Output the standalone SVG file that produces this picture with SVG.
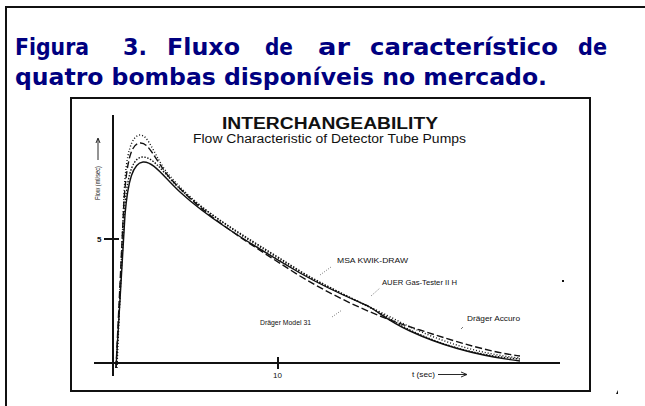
<svg xmlns="http://www.w3.org/2000/svg" width="645" height="406" viewBox="0 0 645 406">
<style>
.head{font-family:"DejaVu Sans","Liberation Sans",sans-serif;font-weight:bold;font-size:23px;fill:#000080}
.lbl{font-family:"Liberation Sans",Arial,sans-serif;font-size:8px;fill:#111}
.ax{stroke:#111;stroke-width:2;fill:none}
.c{fill:none;stroke:#111;stroke-width:1.4}
</style>
<rect width="645" height="406" fill="#fff"/>
<path d="M6,406 V7 H645" fill="none" stroke="#111" stroke-width="2"/>
<g id="heading">
<text class="head" x="15" y="55" textLength="74" lengthAdjust="spacingAndGlyphs">Figura</text>
<text class="head" x="123" y="55" textLength="24" lengthAdjust="spacingAndGlyphs">3.</text>
<text class="head" x="167" y="55" textLength="73" lengthAdjust="spacingAndGlyphs">Fluxo</text>
<text class="head" x="265" y="55" textLength="28" lengthAdjust="spacingAndGlyphs">de</text>
<text class="head" x="318" y="55" textLength="32" lengthAdjust="spacingAndGlyphs">ar</text>
<text class="head" x="370" y="55" textLength="188" lengthAdjust="spacingAndGlyphs">característico</text>
<text class="head" x="578" y="55" textLength="29" lengthAdjust="spacingAndGlyphs">de</text>
<text class="head" x="15" y="85" textLength="532" lengthAdjust="spacingAndGlyphs">quatro bombas disponíveis no mercado.</text>
</g>
<g id="chart-frame">
<rect x="71" y="98" width="519" height="293" fill="none" stroke="#111" stroke-width="2"/>
</g>
<g id="chart-title">
<text x="222" y="129" textLength="216" lengthAdjust="spacingAndGlyphs" style="font-family:'Liberation Sans',Arial,sans-serif;font-weight:bold;font-size:16px;fill:#111">INTERCHANGEABILITY</text>
<text x="193" y="143" textLength="273" lengthAdjust="spacingAndGlyphs" style="font-family:'Liberation Sans',Arial,sans-serif;font-size:12.5px;fill:#111">Flow Characteristic of Detector Tube Pumps</text>
</g>
<g id="axes">
<line class="ax" x1="113" y1="115" x2="113" y2="376"/>
<line class="ax" x1="94" y1="363" x2="560" y2="363"/>
<line class="ax" x1="104" y1="239" x2="119" y2="239"/>
<line class="ax" x1="278" y1="357" x2="278" y2="369"/>
<text class="lbl" x="97" y="242" style="font-weight:bold">5</text>
<text class="lbl" x="273" y="378">10</text>
<text class="lbl" transform="translate(100,200) rotate(-90)" textLength="34" lengthAdjust="spacingAndGlyphs" style="font-size:6.5px">Flow (ml/sec)</text>
<path d="M98,160 V139 M96,143 L98,138 L100,143" fill="none" stroke="#111" stroke-width="0.9"/>
<text class="lbl" x="412" y="377" textLength="23" lengthAdjust="spacingAndGlyphs">t (sec)</text>
<path d="M438,374.5 H466 M461,372 L467,374.5 L461,377" fill="none" stroke="#111" stroke-width="0.9"/>
</g>
<g id="curves">
<path class="c" d="M116,368 L125,215 C128,180 133,163 143,162 C153,161 163,176 180,192 C205,215 240,238 300,273 C330,290 350,298 368,306 C380,313 390,322 410,331 C440,345 480,356 520,361"/>
<path class="c" stroke-dasharray="7,3" d="M116,368 L124,200 C127,160 131,144 140,143 C149,142 155,160 170,178 C200,212 240,238 300,276 C340,300 380,318 420,330 C460,343 490,352 520,356"/>
<path class="c" stroke-dasharray="1.5,1.5" stroke-width="1" d="M116,368 L125,205 C128,170 134,157 143,157 C152,157 160,168 175,184 C205,214 245,236 300,271 C335,292 370,305 400,325 C440,346 480,356 520,359"/>
<path class="c" stroke-dasharray="1,2" stroke-width="0.8" stroke="#666" d="M117,368 L124,195 C126,150 132,136 140,135 C148,135 152,150 165,170 C195,208 240,235 300,272 C335,292 370,306 400,322 C440,342 480,354 520,358"/>
</g>
<g id="labels">
<text class="lbl" x="337" y="263" textLength="71" lengthAdjust="spacingAndGlyphs">MSA KWIK-DRAW</text>
<path d="M320,275 L331,267" stroke="#555" stroke-width="0.8" stroke-dasharray="1,1.5" fill="none"/>
<text class="lbl" x="382" y="285" textLength="75" lengthAdjust="spacingAndGlyphs">AUER Gas-Tester II H</text>
<path d="M371,296 L380,288" stroke="#555" stroke-width="0.8" stroke-dasharray="1,1.5" fill="none"/>
<text class="lbl" x="467" y="321" textLength="53" lengthAdjust="spacingAndGlyphs">Dräger Accuro</text>
<path d="M461,329 L463,327" stroke="#555" stroke-width="0.8" fill="none"/>
<text class="lbl" x="260" y="325" textLength="51" lengthAdjust="spacingAndGlyphs">Dräger Model 31</text>
<path d="M332,317 L342,310" stroke="#555" stroke-width="0.8" stroke-dasharray="1,1.5" fill="none"/>
</g>
<g id="marks" fill="#111">
<rect x="562" y="280" width="2" height="2"/>
<path d="M616,394 L618,390 L618,394 Z"/>
</g>
</svg>
